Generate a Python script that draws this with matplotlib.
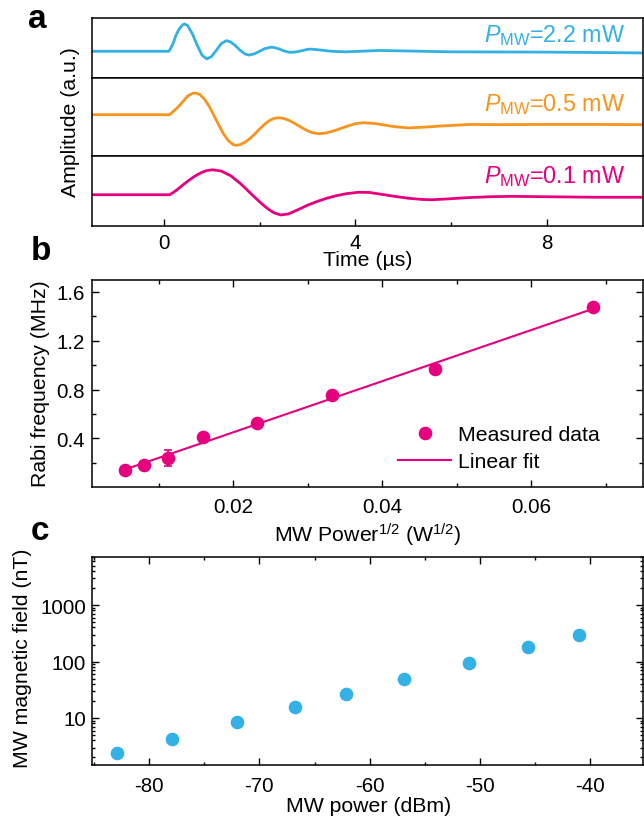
import numpy as np
import matplotlib
matplotlib.use("Agg")
import matplotlib.pyplot as plt
from matplotlib.ticker import FixedLocator, NullFormatter, LogLocator

plt.rcParams['font.family'] = ['Liberation Sans', 'DejaVu Sans']
plt.rcParams['mathtext.fontset'] = 'custom'
plt.rcParams['mathtext.rm'] = 'Liberation Sans'
plt.rcParams['mathtext.it'] = 'Liberation Sans:italic'

BLUE = '#33b0e4'
ORANGE = '#f7941d'
MAGENTA = '#e6007e'

# ---- panel a: time traces (amplitude normalised to first peak) ----
blue_t = [-1.5, 0.11, 0.15, 0.2, 0.25, 0.3, 0.35, 0.4, 0.44, 0.5, 0.6, 0.7, 0.8, 0.9,
          1.0, 1.1, 1.2, 1.31, 1.4, 1.5, 1.6, 1.7, 1.78, 1.9, 2.0, 2.1, 2.23, 2.3,
          2.4, 2.5, 2.6, 2.67, 2.8, 2.9, 3.0, 3.08, 3.3, 3.5, 3.8, 4.5, 6.0, 8.0, 10.0]
blue_a = [0, 0, 0.12, 0.3, 0.55, 0.74, 0.88, 0.97, 1.0, 0.94, 0.64, 0.22, -0.14, -0.28,
          -0.19, 0.04, 0.28, 0.39, 0.34, 0.2, 0.03, -0.1, -0.14, -0.09, 0.0, 0.09, 0.15, 0.14,
          0.09, 0.02, -0.03, -0.04, -0.01, 0.03, 0.07, 0.08, 0.04, 0.0, -0.02, 0.03, -0.02, -0.03, -0.06]

orange_t = [-1.5, 0.125, 0.2, 0.3, 0.4, 0.5, 0.6, 0.664, 0.75, 0.85, 0.95, 1.05, 1.15, 1.25,
            1.35, 1.45, 1.51, 1.6, 1.7, 1.8, 1.9, 2.0, 2.1, 2.2, 2.3, 2.39, 2.5, 2.6, 2.7,
            2.8, 2.9, 3.0, 3.1, 3.24, 3.4, 3.6, 3.8, 4.0, 4.17, 4.4, 4.6, 4.8, 5.1, 5.4,
            5.8, 6.4, 7.0, 8.0, 9.0, 10.0]
orange_a = [0, 0, 0.15, 0.35, 0.6, 0.86, 0.98, 1.0, 0.94, 0.72, 0.39, -0.04, -0.48, -0.89,
            -1.2, -1.38, -1.41, -1.38, -1.27, -1.1, -0.89, -0.66, -0.45, -0.28, -0.17, -0.14,
            -0.17, -0.25, -0.36, -0.49, -0.62, -0.74, -0.83, -0.88, -0.84, -0.71, -0.55, -0.41,
            -0.37, -0.405, -0.475, -0.55, -0.61, -0.58, -0.52, -0.45, -0.46, -0.45, -0.45, -0.46]

magenta_t = [-1.5, 0.125, 0.2, 0.3, 0.4, 0.5, 0.6, 0.7, 0.8, 0.9, 1.02, 1.2, 1.4, 1.6, 1.7,
             1.8, 1.9, 2.0, 2.1, 2.2, 2.3, 2.44, 2.6, 2.8, 3.0, 3.2, 3.4, 3.6, 3.8, 4.07, 4.3,
             4.5, 4.8, 5.1, 5.4, 5.6, 5.9, 6.3, 6.8, 7.25, 8.0, 9.0, 10.0]
magenta_a = [0, 0, 0.09, 0.23, 0.39, 0.54, 0.68, 0.8, 0.9, 0.97, 1.0, 0.95, 0.76, 0.45, 0.27,
             0.08, -0.1, -0.28, -0.45, -0.6, -0.72, -0.81, -0.77, -0.6, -0.42, -0.27, -0.14,
             -0.04, 0.04, 0.10, 0.09, 0.03, -0.06, -0.14, -0.19, -0.2, -0.17, -0.12, -0.08,
             -0.064, -0.08, -0.1, -0.1]

trace_labels = [r'$P_{\rm MW}$=2.2 mW', r'$P_{\rm MW}$=0.5 mW', r'$P_{\rm MW}$=0.1 mW']

# ---- panel b: Rabi frequency vs sqrt(power) ----
sqrt_power = [0.00553, 0.00801, 0.01125, 0.01593, 0.02324, 0.03326, 0.04701, 0.0683]
rabi_freq = [0.143, 0.184, 0.243, 0.408, 0.527, 0.759, 0.965, 1.476]
rabi_err = [0.01, 0.01, 0.065, 0.01, 0.01, 0.01, 0.01, 0.01]

# ---- panel c: MW field vs power ----
mw_dbm = [-82.9, -77.9, -72.0, -66.8, -62.1, -56.9, -51.0, -45.6, -41.0]
mw_field = [2.43, 4.25, 8.6, 15.4, 27, 49, 95, 178, 298]

W, H = 644, 820
fig = plt.figure(figsize=(W / 100, H / 100), dpi=100)


def box(top, bottom, left=91.7, right=643.2):
    return [left / W, 1 - bottom / H, (right - left) / W, (bottom - top) / H]


def ftext(x, y, s, **kw):
    fig.text(x / W, 1 - y / H, s, **kw)


TICK_FS = 14.8
LAB_FS = 15.3

# panel a
rows = [(19, 79.3), (79.3, 157.3), (157.3, 226.7)]
traces = [(blue_t, blue_a, BLUE, (-0.99, 1.22), 0.624),
          (orange_t, orange_a, ORANGE, (-1.92, 1.68), 0.59),
          (magenta_t, magenta_a, MAGENTA, (-1.24, 1.54), 0.625)]
axes_a = []
for (top, bot), (t, a, col, yl, ty), lab in zip(rows, traces, trace_labels):
    ax = fig.add_axes(box(top, bot))
    ax.plot(t, a, color=col, lw=2.0, solid_joinstyle='round')
    ax.set_xlim(-1.5, 10)
    ax.set_ylim(*yl)
    ax.set_yticks([])
    ax.text(9.63, ty, lab, color=col, fontsize=16.8, ha='right', va='baseline',
            transform=ax.get_xaxis_transform())
    for s in ax.spines.values():
        s.set_linewidth(1.1)
    axes_a.append(ax)
for ax in axes_a[:-1]:
    ax.set_xticks([])
axb = axes_a[-1]
axb.set_xticks([0, 4, 8])
axb.xaxis.set_minor_locator(FixedLocator([2, 6]))
axb.tick_params(axis='x', which='major', direction='in', length=5, width=1, pad=5,
                labelsize=TICK_FS)
axb.tick_params(axis='x', which='minor', direction='in', length=3, width=1)
ftext(368, 261, 'Time (µs)', fontsize=LAB_FS, ha='center', va='center')
ftext(71, 122, 'Amplitude (a.u.)', fontsize=LAB_FS, ha='center', va='center', rotation=90)

# panel b
ax2 = fig.add_axes(box(280.7, 488.3))
fit = np.polyfit(sqrt_power, rabi_freq, 1)
xf = np.array([sqrt_power[0], sqrt_power[-1]])
ax2.errorbar(sqrt_power, rabi_freq, yerr=rabi_err, fmt='none', ecolor=MAGENTA,
             capsize=3, elinewidth=1.2, capthick=1.2, zorder=3)
pts, = ax2.plot(sqrt_power, rabi_freq, 'o', color=MAGENTA, ms=8.8, zorder=4)
ln, = ax2.plot(xf, np.polyval(fit, xf), color=MAGENTA, lw=1.5)
ax2.set_xlim(0.001, 0.075)
ax2.set_ylim(0.0, 1.7)
ax2.set_xticks([0.02, 0.04, 0.06])
ax2.set_xticklabels(['0.02', '0.04', '0.06'])
ax2.xaxis.set_minor_locator(FixedLocator([0.01, 0.03, 0.05, 0.07]))
ax2.set_yticks([0.4, 0.8, 1.2, 1.6])
ax2.set_yticklabels(['0.4', '0.8', '1.2', '1.6'])
ax2.yaxis.set_minor_locator(FixedLocator([0.2, 0.6, 1.0, 1.4]))
ax2.tick_params(which='both', direction='in', top=True, right=True, width=1,
                labelsize=TICK_FS)
ax2.tick_params(which='major', length=5)
ax2.tick_params(which='minor', length=3)
ax2.tick_params(axis='x', pad=7)
ax2.tick_params(axis='y', pad=5)
for s in ax2.spines.values():
    s.set_linewidth(1.1)
ax2.legend([pts, ln], ['Measured data', 'Linear fit'], frameon=False, fontsize=LAB_FS,
           loc='upper left', bbox_to_anchor=(398 / W, 1 - 426 / H),
           bbox_transform=fig.transFigure, handlelength=2.5, handletextpad=0.3,
           labelspacing=0.4, borderpad=0, borderaxespad=0)
ftext(368, 535, r'MW Power$^{\rm 1/2}$ (W$^{\rm 1/2}$)', fontsize=LAB_FS, ha='center',
      va='center')
ftext(41, 384, 'Rabi frequency (MHz)', fontsize=LAB_FS, ha='center', va='center',
      rotation=90)

# panel c
ax3 = fig.add_axes(box(558.3, 766))
ax3.plot(mw_dbm, mw_field, 'o', color=BLUE, ms=8.8)
ax3.set_yscale('log')
ax3.set_xlim(-85.2, -35.2)
ax3.set_ylim(1.47, 7000)
ax3.set_xticks([-80, -70, -60, -50, -40])
ax3.set_xticklabels(['-80', '-70', '-60', '-50', '-40'])
ax3.xaxis.set_minor_locator(FixedLocator([-85, -75, -65, -55, -45, -35]))
ax3.set_yticks([10, 100, 1000])
ax3.set_yticklabels(['10', '100', '1000'])
ax3.yaxis.set_minor_locator(LogLocator(base=10, subs=np.arange(2, 10)))
ax3.yaxis.set_minor_formatter(NullFormatter())
ax3.tick_params(which='both', direction='in', top=True, right=True, width=1,
                labelsize=TICK_FS)
ax3.tick_params(which='major', length=5)
ax3.tick_params(which='minor', length=2.5)
ax3.tick_params(axis='x', pad=8)
ax3.tick_params(axis='y', pad=4)
for s in ax3.spines.values():
    s.set_linewidth(1.1)
ftext(369, 807, 'MW power (dBm)', fontsize=LAB_FS, ha='center', va='center')
ftext(23, 658, 'MW magnetic field (nT)', fontsize=LAB_FS, ha='center', va='center',
      rotation=90)

# panel letters
ftext(28, 28.3, 'a', fontsize=24, fontweight='bold', ha='left', va='baseline')
ftext(30.5, 260, 'b', fontsize=24, fontweight='bold', ha='left', va='baseline')
ftext(30.5, 540, 'c', fontsize=24, fontweight='bold', ha='left', va='baseline')

fig.savefig('out.png', dpi=100)
